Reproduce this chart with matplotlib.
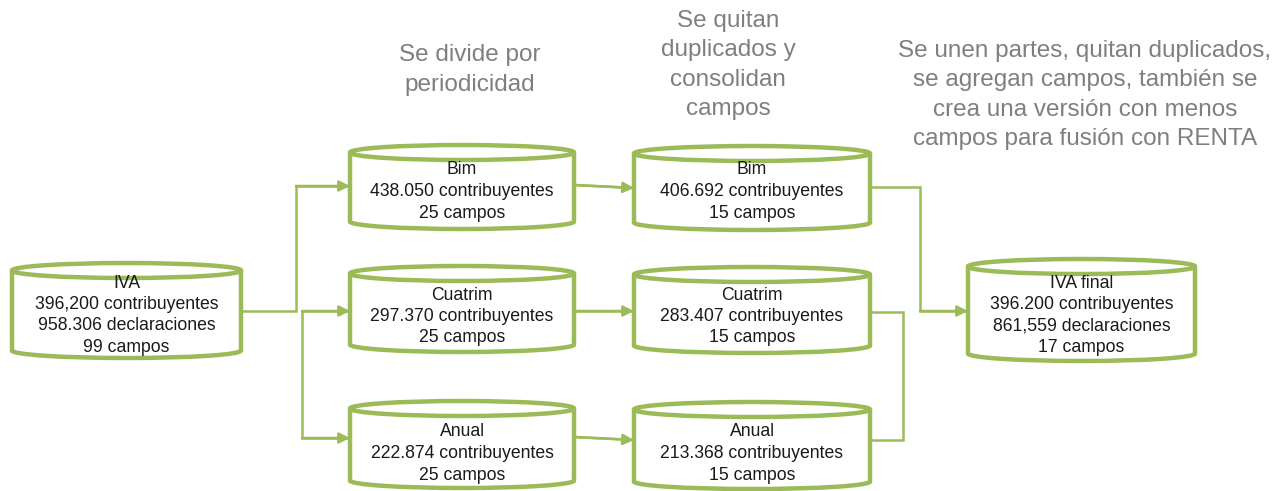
import matplotlib.pyplot as plt
from matplotlib.patches import Ellipse, Arc

GREEN = '#9bbb59'
GRAY = '#7f7f7f'

plt.rcParams['font.family'] = ['Liberation Sans', 'DejaVu Sans']

# cylinder contents
iva_lines = ['IVA', '396,200 contribuyentes', '958.306 declaraciones', '99 campos']
split_names = ['Bim', 'Cuatrim', 'Anual']
split_counts = ['438.050', '297.370', '222.874']
split_campos = [25, 25, 25]
clean_counts = ['406.692', '283.407', '213.368']
clean_campos = [15, 15, 15]
final_lines = ['IVA final', '396.200 contribuyentes', '861,559 declaraciones', '17 campos']

headers = [
    'Se divide por\nperiodicidad',
    'Se quitan\nduplicados y\nconsolidan\ncampos',
    'Se unen partes, quitan duplicados,\nse agregan campos, también se\ncrea una versión con menos\ncampos para fusión con RENTA',
]

fig = plt.figure(figsize=(12.86, 4.91), dpi=100)
ax = fig.add_axes([0, 0, 1, 1])
ax.set_xlim(0, 1286)
ax.set_ylim(491, 0)
ax.axis('off')


def cylinder(x0, x1, ytop, ybot, lines, ytext):
    ry = 7.5
    cx = (x0 + x1) / 2
    w = x1 - x0
    ax.add_patch(Ellipse((cx, ytop + ry), w, 2 * ry, fill=False, ec=GREEN, lw=3.2))
    ax.plot([x0, x0], [ytop + ry, ybot - ry], color=GREEN, lw=3.2, solid_capstyle='butt')
    ax.plot([x1, x1], [ytop + ry, ybot - ry], color=GREEN, lw=3.2, solid_capstyle='butt')
    # y axis is inverted, so the lower half is theta 0..180
    ax.add_patch(Arc((cx, ybot - ry), w, 2 * ry, theta1=0, theta2=180, ec=GREEN, lw=3.2))
    for i, t in enumerate(lines):
        ax.text(cx, ytext + i * 21.5, t, ha='center', va='center', fontsize=12.7, color='#1a1a1a')


def path(xs, ys, arrow=True):
    ax.plot(xs, ys, color=GREEN, lw=1.8, solid_joinstyle='miter')
    if arrow:
        ax.annotate('', xy=(xs[-1], ys[-1]), xytext=(xs[-2], ys[-2]),
                    arrowprops=dict(arrowstyle='-|>', color=GREEN, lw=1.8,
                                    mutation_scale=16, shrinkA=0, shrinkB=0))


# IVA source
cylinder(12, 241, 263, 358, iva_lines, 283)

rows_top = [145, 266, 401]
rows_bot = [229, 352, 488]
rows_text = [170, 295, 432]
for i in range(3):
    cylinder(350, 574, rows_top[i], rows_bot[i],
             [split_names[i], f'{split_counts[i]} contribuyentes', f'{split_campos[i]} campos'],
             rows_text[i])
    cylinder(634, 870, rows_top[i] + 1, rows_bot[i] + 1,
             [split_names[i], f'{clean_counts[i]} contribuyentes', f'{clean_campos[i]} campos'],
             rows_text[i])

cylinder(968, 1195, 259, 361, final_lines, 283)

# connectors
path([241, 296, 296, 350], [311, 311, 186, 186])
path([302, 350], [311, 311])
path([302, 302, 350], [311, 438, 438])
path([574, 634], [185, 188])
path([574, 634], [311, 311])
path([574, 634], [437, 440])
path([870, 920, 920, 968], [187, 187, 311, 311])
path([870, 903, 903, 870], [312, 312, 440, 440], arrow=False)

# step descriptions
ax.text(470, 70, headers[0], ha='center', va='center', fontsize=17.5, color=GRAY, linespacing=1.42)
ax.text(728, 65, headers[1], ha='center', va='center', fontsize=17.5, color=GRAY, linespacing=1.42)
ax.text(1085, 95, headers[2], ha='center', va='center', fontsize=17.5, color=GRAY, linespacing=1.42)

fig.savefig('out.png', dpi=100)
